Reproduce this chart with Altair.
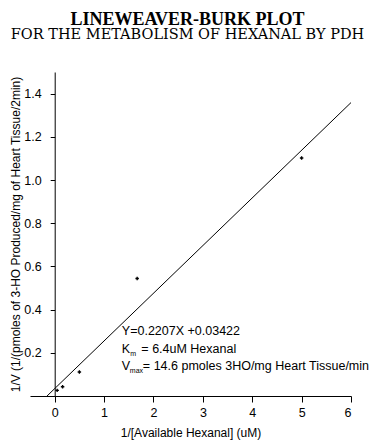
import altair as alt
import pandas as pd

# ---- data ----
inv_substrate = [0.05, 0.16, 0.50, 1.67, 5.00]       # 1/[Available Hexanal] (uM)
inv_velocity = [0.026, 0.043, 0.111, 0.544, 1.102]   # 1/V
fit_slope = [0.2207]
fit_intercept = [0.03422]
fit_x_range = [-0.155, 6.0]
x_ticks = [0, 1, 2, 3, 4, 5, 6]
y_ticks = [0.2, 0.4, 0.6, 0.8, 1.0, 1.2, 1.4]

eq_text = ["Y=0.2207X  +0.03422"]
km_text = ["K", "m", "= 6.4uM Hexanal"]
vmax_text = ["V", "max", "= 14.6 pmoles 3HO/mg Heart Tissue/min"]

# ---- tables ----
pts = pd.DataFrame({"x": inv_substrate, "y": inv_velocity})
fit = pd.DataFrame({
    "x": fit_x_range,
    "y": [fit_slope[0] * v + fit_intercept[0] for v in fit_x_range],
})

ANNOT_X = 1.36
eq_df = pd.DataFrame({"x": [ANNOT_X], "y": [0.281], "t": eq_text})
km_df = pd.DataFrame({"x": [ANNOT_X], "y": [0.200], "t": [km_text[0]]})
km_sub = pd.DataFrame({"x": [ANNOT_X], "y": [0.200], "t": [km_text[1]]})
km_rest = pd.DataFrame({"x": [ANNOT_X], "y": [0.200], "t": [km_text[2]]})
vm_df = pd.DataFrame({"x": [ANNOT_X], "y": [0.119], "t": [vmax_text[0]]})
vm_sub = pd.DataFrame({"x": [ANNOT_X], "y": [0.119], "t": [vmax_text[1]]})
vm_rest = pd.DataFrame({"x": [ANNOT_X], "y": [0.119], "t": [vmax_text[2]]})

W, H = 321, 324
XDOM = [-0.5, 6]
YDOM = [0, 1.5]
y_axis_offset = -W * (0 - XDOM[0]) / (XDOM[1] - XDOM[0])

SANS = "Liberation Sans"

xscale = alt.Scale(domain=XDOM, nice=False, zero=False)
yscale = alt.Scale(domain=YDOM, nice=False)

xaxis = alt.Axis(
    title="1/[Available Hexanal] (uM)", values=x_ticks, format="d",
    grid=False, domainColor="black", tickColor="black", tickSize=6,
    labelFont=SANS, labelFontSize=12.5, labelColor="black", labelPadding=4,
    titleFont=SANS, titleFontSize=12, titleFontWeight="normal", titleColor="black",
    titlePadding=9,
)
yaxis = alt.Axis(
    title="1/V (1/(pmoles of 3-HO Produced/mg of Heart Tissue/2min)",
    values=y_ticks, format=".1f",
    grid=False, domainColor="black", tickColor="black", tickSize=4.5,
    labelFont=SANS, labelFontSize=12.5, labelColor="black", labelPadding=9,
    titleFont=SANS, titleFontSize=12, titleFontWeight="normal", titleColor="black",
    offset=y_axis_offset, titleX=-35.5, titleBaseline="alphabetic",
)

base_x = alt.X("x:Q", scale=xscale, axis=xaxis)
base_y = alt.Y("y:Q", scale=yscale, axis=yaxis)

line = alt.Chart(fit).mark_line(color="black", strokeWidth=1).encode(x=base_x, y=base_y)
points = alt.Chart(pts).mark_point(shape="cross", size=12, filled=True, color="black", opacity=1).encode(
    x=alt.X("x:Q", scale=xscale), y=alt.Y("y:Q", scale=yscale)
)


def txt(df, size, dx=0, dy=0):
    return alt.Chart(df).mark_text(
        align="left", baseline="alphabetic", font=SANS, fontSize=size,
        color="black", dx=dx, dy=dy,
    ).encode(x=alt.X("x:Q", scale=xscale), y=alt.Y("y:Q", scale=yscale), text="t:N")


annots = (
    txt(eq_df, 12.5)
    + txt(km_df, 12.5) + txt(km_sub, 7, dx=8.5, dy=3) + txt(km_rest, 12.5, dx=19.5)
    + txt(vm_df, 12.5) + txt(vm_sub, 7, dx=8, dy=3) + txt(vm_rest, 12.5, dx=21)
)

chart = (line + points + annots).properties(
    width=W, height=H,
    autosize=alt.AutoSizeParams(type="none"),
    padding={"left": 22, "top": 64, "right": 18, "bottom": 44},
    title=alt.Title(
        text="LINEWEAVER-BURK PLOT",
        subtitle="FOR THE METABOLISM OF HEXANAL BY PDH",
        font="Liberation Serif", fontSize=18, fontWeight="bold", color="black",
        subtitleFont="DejaVu Serif", subtitleFontSize=14.5, subtitleColor="black",
        subtitlePadding=-1, anchor="middle", offset=31, dx=-3,
    ),
).configure_view(stroke="transparent")

chart.save("out.html", embed_options={"renderer": "svg", "actions": False})
